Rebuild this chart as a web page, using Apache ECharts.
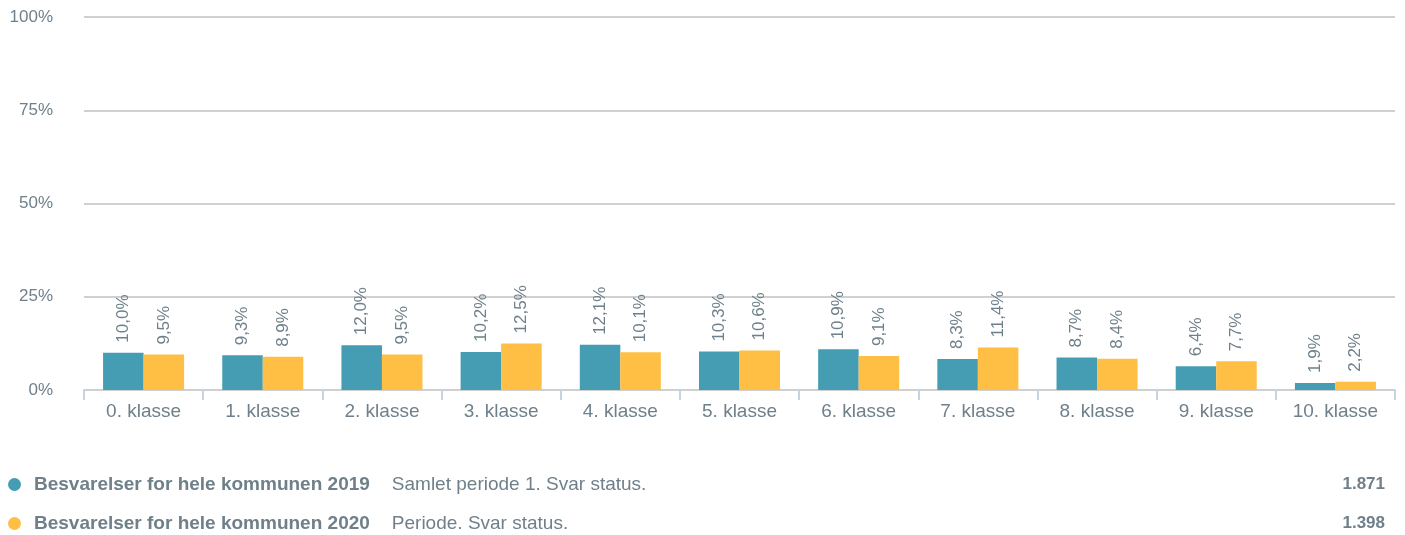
<!DOCTYPE html>
<html>
<head>
<meta charset="utf-8">
<script src="https://cdn.jsdelivr.net/npm/echarts@6/dist/echarts.min.js"></script>
<style>
  html, body { margin: 0; padding: 0; background: #fff; }
  #chart { width: 1405px; height: 535px; }
</style>
</head>
<body>
<div id="chart"></div>
<script>
// data
var categories = ["0. klasse", "1. klasse", "2. klasse", "3. klasse", "4. klasse", "5. klasse",
                  "6. klasse", "7. klasse", "8. klasse", "9. klasse", "10. klasse"];
var values2019 = [10.0, 9.3, 12.0, 10.2, 12.1, 10.3, 10.9, 8.3, 8.7, 6.4, 1.9];
var values2020 = [9.5, 8.9, 9.5, 12.5, 10.1, 10.6, 9.1, 11.4, 8.4, 7.7, 2.2];
var seriesNames = ["Besvarelser for hele kommunen 2019", "Besvarelser for hele kommunen 2020"];
var seriesDesc = ["Samlet periode 1. Svar status.", "Periode. Svar status."];
var seriesTotals = ["1.871", "1.398"];
var yTicks = [0, 25, 50, 75, 100];

var textColor = "#6f808b";
var colors = ["#459db3", "#ffbf44"];
var font = "Liberation Sans, Arial, sans-serif";

var chart = echarts.init(document.getElementById("chart"));

function pct(v) {
  return v.toFixed(1).replace(".", ",") + "%";
}

function makeSeries(i, data) {
  return {
    name: seriesNames[i],
    type: "bar",
    data: data,
    barGap: "0%",
    barCategoryGap: "32%",
    itemStyle: { color: colors[i] },
    label: {
      show: true,
      position: "top",
      rotate: 90,
      align: "left",
      verticalAlign: "middle",
      distance: 10,
      color: textColor,
      fontSize: 17,
      fontFamily: font,
      formatter: function (p) { return pct(p.value); }
    }
  };
}

var option = {
  animation: false,
  textStyle: { fontFamily: font },
  grid: { left: 84, right: 10, top: 17, bottom: 145 },
  xAxis: {
    type: "category",
    data: categories,
    axisLine: { lineStyle: { color: "#d0d0d0", width: 2 } },
    axisTick: { show: true, length: 10, lineStyle: { color: "#c6d3e0", width: 2 } },
    axisLabel: { color: textColor, fontSize: 19, margin: 12 }
  },
  yAxis: {
    type: "value",
    min: yTicks[0],
    max: yTicks[yTicks.length - 1],
    interval: 25,
    axisLine: { show: false },
    axisTick: { show: false },
    splitLine: { lineStyle: { color: "#d0d0d0", width: 2 } },
    axisLabel: { color: textColor, fontSize: 17, margin: 31, formatter: "{value}%" }
  },
  legend: [0, 1].map(function (i) {
    return {
      data: [{ name: seriesNames[i], icon: "circle" }],
      left: 3,
      top: i === 0 ? 470 : 509,
      itemWidth: 13,
      itemHeight: 13,
      itemGap: 0,
      selectedMode: false,
      formatter: function (name) {
        return "{b|" + name + "}{d|" + seriesDesc[i] + "}";
      },
      textStyle: {
        rich: {
          b: { color: textColor, fontSize: 19, fontWeight: "bold", padding: [0, 22, 0, 8] },
          d: { color: textColor, fontSize: 19 }
        }
      }
    };
  }),
  graphic: [0, 1].map(function (i) {
    return {
      type: "text",
      right: 20,
      top: i === 0 ? 476 : 515,
      style: {
        text: seriesTotals[i],
        fill: textColor,
        font: "bold 17px " + font
      }
    };
  }),
  series: [makeSeries(0, values2019), makeSeries(1, values2020)]
};

chart.setOption(option);
</script>
</body>
</html>
